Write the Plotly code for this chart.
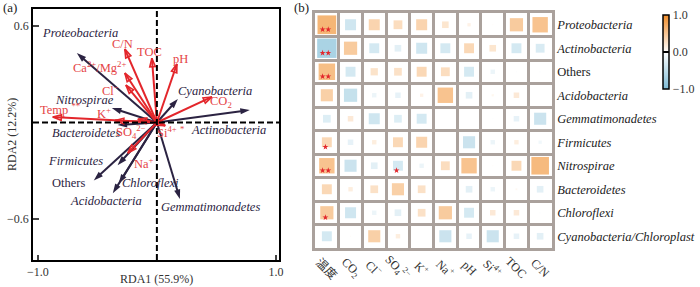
import plotly.graph_objects as go

# ---------------- Panel (a): RDA biplot ----------------
species = ["Proteobacteria", "Actinobacteria", "Others", "Acidobacteria", "Gemmatimonadetes",
           "Firmicutes", "Nitrospirae", "Bacteroidetes", "Chloroflexi", "Cyanobacteria"]
species_rda1 = [-0.672, 0.780, -0.530, -0.370, 0.193, -0.330, -0.378, -0.330, -0.320, 0.176]
species_rda2 = [0.432, 0.078, -0.360, -0.440, -0.475, -0.265, 0.090, -0.016, -0.380, 0.146]
species_label_x = [-0.647, 0.597, -0.740, -0.430, 0.454, -0.680, -0.610, -0.597, -0.050, 0.487]
species_label_y = [0.557, -0.047, -0.376, -0.488, -0.525, -0.240, 0.140, -0.065, -0.376, 0.196]

env_names = ["Temp", "CO<sub>2</sub>", "Cl<sup>−</sup>", "SO<sub>4</sub><sup>2−</sup>", "K<sup>+</sup>",
             "Na<sup>+</sup>", "pH", "Si<sup>4+</sup>", "TOC", "C/N", "Ca<sup>2+</sup>/Mg<sup>2+</sup>"]
env_sig = ["**", "", "", "", "", "", "", "*", "", "", ""]
env_rda1 = [-0.874, 0.462, -0.260, -0.160, -0.350, -0.244, 0.168, 0.070, -0.042, -0.269, -0.269]
env_rda2 = [0.034, 0.159, 0.233, 0.020, 0.012, -0.190, 0.364, -0.020, 0.400, 0.457, 0.308]
env_label_x = [-0.815, 0.540, -0.386, -0.220, -0.445, -0.110, 0.195, 0.118, -0.060, -0.286, -0.480]
env_label_y = [0.083, 0.128, 0.202, -0.059, 0.059, -0.250, 0.395, -0.059, 0.438, 0.488, 0.345]

# ---------------- Panel (b): correlation heatmap ----------------
hm_rows = ["Proteobacteria", "Actinobacteria", "Others", "Acidobacteria", "Gemmatimonadetes",
           "Firmicutes", "Nitrospirae", "Bacteroidetes", "Chloroflexi", "Cyanobacteria/Chloroplast"]
hm_cols = ["温度", "CO<sub>2</sub>", "Cl<sup>−</sup>", "SO<sub>4</sub><sup>2−</sup>", "K<sup>+</sup>",
           "Na<sup>+</sup>", "pH", "Si<sup>4+</sup>", "TOC", "C/N"]
corr = [
    [0.85, -0.50, 0.50, 0.40, 0.50, 0.30, 0.15, 0.05, 0.60, 0.70],
    [-0.88, 0.60, -0.45, -0.30, -0.50, -0.45, 0.45, 0.30, -0.45, -0.40],
    [0.75, -0.45, 0.33, 0.35, 0.45, 0.40, -0.45, -0.20, -0.05, -0.05],
    [0.55, -0.60, -0.20, -0.25, 0.15, 0.70, -0.30, 0.10, 0.25, 0.00],
    [-0.35, 0.25, -0.50, -0.35, -0.45, 0.00, 0.00, -0.05, -0.25, -0.55],
    [0.45, -0.25, 0.20, 0.45, 0.50, 0.00, -0.55, -0.20, 0.20, -0.15],
    [0.70, -0.55, -0.30, -0.45, -0.20, 0.40, 0.70, 0.05, 0.45, 0.80],
    [0.45, 0.20, 0.35, 0.55, 0.35, 0.00, -0.30, -0.20, 0.08, -0.30],
    [0.60, -0.50, -0.20, -0.30, 0.35, 0.60, -0.45, 0.25, 0.25, -0.05],
    [-0.45, 0.05, 0.55, 0.20, -0.02, -0.55, -0.25, -0.55, -0.25, -0.30],
]
sig = [
    [2, 0, 0, 0, 0, 0, 0, 0, 0, 0],
    [2, 0, 0, 0, 0, 0, 0, 0, 0, 0],
    [2, 0, 0, 0, 0, 0, 0, 0, 0, 0],
    [0, 0, 0, 0, 0, 0, 0, 0, 0, 0],
    [0, 0, 0, 0, 0, 0, 0, 0, 0, 0],
    [1, 0, 0, 0, 0, 0, 0, 0, 0, 0],
    [2, 0, 0, 1, 0, 0, 0, 0, 0, 0],
    [0, 0, 0, 0, 0, 0, 0, 0, 0, 0],
    [1, 0, 0, 0, 0, 0, 0, 0, 0, 0],
    [0, 0, 0, 0, 0, 0, 0, 0, 0, 0],
]

SERIF = "Liberation Serif, 'Times New Roman', 'Noto Sans CJK SC', serif"
DARK = "#2b2342"
RED = "#e3262b"
RED_TXT = "#e54446"
GRID = "#aaa19c"
W, H = 700, 287

fig = go.Figure()

# dark species arrows
for i, name in enumerate(species):
    fig.add_trace(go.Scatter(
        x=[0, species_rda1[i]], y=[0, species_rda2[i]], mode="lines+markers",
        line=dict(color=DARK, width=2),
        marker=dict(symbol="arrow", size=10, color=DARK, angleref="previous"),
        hoverinfo="skip", showlegend=False, xaxis="x", yaxis="y"))

# red environmental arrows
for i, name in enumerate(env_names):
    fig.add_trace(go.Scatter(
        x=[0, env_rda1[i]], y=[0, env_rda2[i]], mode="lines+markers",
        line=dict(color=RED, width=2),
        marker=dict(symbol="arrow-open", size=9, color=RED, angleref="previous",
                    line=dict(width=1.6, color=RED)),
        hoverinfo="skip", showlegend=False, xaxis="x", yaxis="y"))

annotations = []
for i, name in enumerate(species):
    txt = name if name == "Others" else "<i>%s</i>" % name
    annotations.append(dict(x=species_label_x[i], y=species_label_y[i], xref="x", yref="y",
                            text=txt, showarrow=False, xanchor="center", yanchor="middle",
                            font=dict(family=SERIF, size=12.5, color=DARK)))
for i, name in enumerate(env_names):
    txt = name + (" <sup>%s</sup>" % env_sig[i] if env_sig[i] else "")
    annotations.append(dict(x=env_label_x[i], y=env_label_y[i], xref="x", yref="y",
                            text=txt, showarrow=False, xanchor="center", yanchor="middle",
                            font=dict(family=SERIF, size=12.5, color=RED_TXT)))

# axis titles / panel labels
annotations += [
    dict(x=0.5, xref="x domain", y=1 - 279 / H, yref="paper", text="RDA1 (55.9%)",
         xanchor="center", yanchor="middle",
         showarrow=False, font=dict(family=SERIF, size=12, color="#333")),
    dict(x=12 / W, xref="paper", y=1 - 135 / H, yref="paper", text="RDA2 (12.2%)",
         xanchor="center", yanchor="middle",
         textangle=-90, showarrow=False, font=dict(family=SERIF, size=12, color="#333")),
    dict(x=10 / W, xref="paper", y=1 - 8 / H, yref="paper", text="(a)",
         xanchor="center", yanchor="middle",
         showarrow=False, font=dict(family=SERIF, size=13, color="#222")),
    dict(x=301 / W, xref="paper", y=1 - 8 / H, yref="paper", text="(b)",
         xanchor="center", yanchor="middle",
         showarrow=False, font=dict(family=SERIF, size=13, color="#222")),
]

# heatmap squares
xs, ys, vals, sizes = [], [], [], []
for i in range(len(hm_rows)):
    for j in range(len(hm_cols)):
        xs.append(j + 1)
        ys.append(i + 1)
        vals.append(corr[i][j])
        sizes.append(abs(corr[i][j]) * 22)
fig.add_trace(go.Scatter(
    x=xs, y=ys, mode="markers", xaxis="x2", yaxis="y2", hoverinfo="skip", showlegend=False,
    marker=dict(symbol="square", size=sizes, color=vals, cmin=-1, cmax=1, opacity=0.75,
                colorscale=[[0, "#7fbcd6"], [0.5, "#ffffff"], [1, "#f08c28"]],
                line=dict(width=0), showscale=True,
                colorbar=dict(x=663 / W, xanchor="left", y=1 - 52 / H, yanchor="middle",
                              len=74 / H, lenmode="fraction", thickness=6,
                              xpad=0, ypad=0, outlinecolor="black", outlinewidth=1.5,
                              tickvals=[-1, 0, 1], ticktext=["−1.0", "0.0", "1.0"],
                              ticks="inside", ticklen=6, tickwidth=1.5, tickcolor="black",
                              tickfont=dict(family=SERIF, size=12, color="#333")))))

# significance stars
sx, sy = [], []
for i in range(len(hm_rows)):
    for j in range(len(hm_cols)):
        n = sig[i][j]
        for k in range(n):
            sx.append(j + 1 + (k - (n - 1) / 2) * 0.24 - 0.06)
            sy.append(i + 1 + 0.2)
fig.add_trace(go.Scatter(x=sx, y=sy, mode="markers", xaxis="x2", yaxis="y2",
                         hoverinfo="skip", showlegend=False,
                         marker=dict(symbol="star", size=4.5, color="#e3262b")))

for j, c in enumerate(hm_cols):
    annotations.append(dict(x=j + 1, xref="x2", y=1 - 268 / H, yref="paper", text=c,
                            textangle=45, showarrow=False, xanchor="center", yanchor="middle",
                            font=dict(family=SERIF, size=12, color="#333")))

fig.update_layout(
    width=W, height=H, margin=dict(l=0, r=0, t=0, b=0, autoexpand=False),
    paper_bgcolor="white", plot_bgcolor="white",
    annotations=annotations,
    shapes=[
        dict(type="line", xref="x", yref="y domain", x0=0, x1=0, y0=0, y1=1,
             line=dict(color="black", width=2, dash="6px,3px")),
        dict(type="line", xref="x domain", yref="y", x0=0, x1=1, y0=0, y1=0,
             line=dict(color="black", width=2, dash="6px,3px")),
    ],
    xaxis=dict(domain=[33 / W, 279 / W], range=[-1.04, 1.025], anchor="y",
               showgrid=False, zeroline=False, showline=True, mirror=True,
               linecolor="black", linewidth=1.5, ticks="inside", ticklen=5, tickwidth=1.5,
               tickvals=[-1, 1], ticktext=["−1.0", "1.0"],
               tickfont=dict(family=SERIF, size=12, color="#333")),
    yaxis=dict(domain=[1 - 260 / H, 1 - 9 / H], range=[-0.855, 0.706], anchor="x",
               showgrid=False, zeroline=False, showline=True, mirror=True,
               linecolor="black", linewidth=1.5, ticks="inside", ticklen=6, tickwidth=1.5,
               tickvals=[-0.6, 0.6], ticktext=["−0.6", "0.6"],
               tickfont=dict(family=SERIF, size=12, color="#333")),
    xaxis2=dict(domain=[315 / W, 552 / W], range=[0.5, 10.5], anchor="y2",
                showgrid=False, zeroline=False, showticklabels=False, ticks="",
                showline=True, mirror=True, linecolor=GRID, linewidth=2.5,
                minor=dict(tickmode="array", tickvals=[k + 0.5 for k in range(1, 10)],
                           showgrid=True, gridcolor=GRID, gridwidth=2.5, ticks="")),
    yaxis2=dict(domain=[1 - 248 / H, 1 - 13 / H], range=[10.5, 0.5], anchor="x2",
                side="right", showgrid=False, zeroline=False, ticks="",
                showline=True, mirror=True, linecolor=GRID, linewidth=2.5,
                tickvals=list(range(1, 11)),
                ticktext=[r if r == "Others" else "<i>%s</i>" % r for r in hm_rows],
                tickfont=dict(family=SERIF, size=12.5, color="#222"),
                minor=dict(tickmode="array", tickvals=[k + 0.5 for k in range(1, 10)],
                           showgrid=True, gridcolor=GRID, gridwidth=2.5, ticks="")),
)

fig.write_html("out.html", config={"displayModeBar": False},
               post_script="document.body.style.margin='0';document.body.style.overflow='hidden';")
